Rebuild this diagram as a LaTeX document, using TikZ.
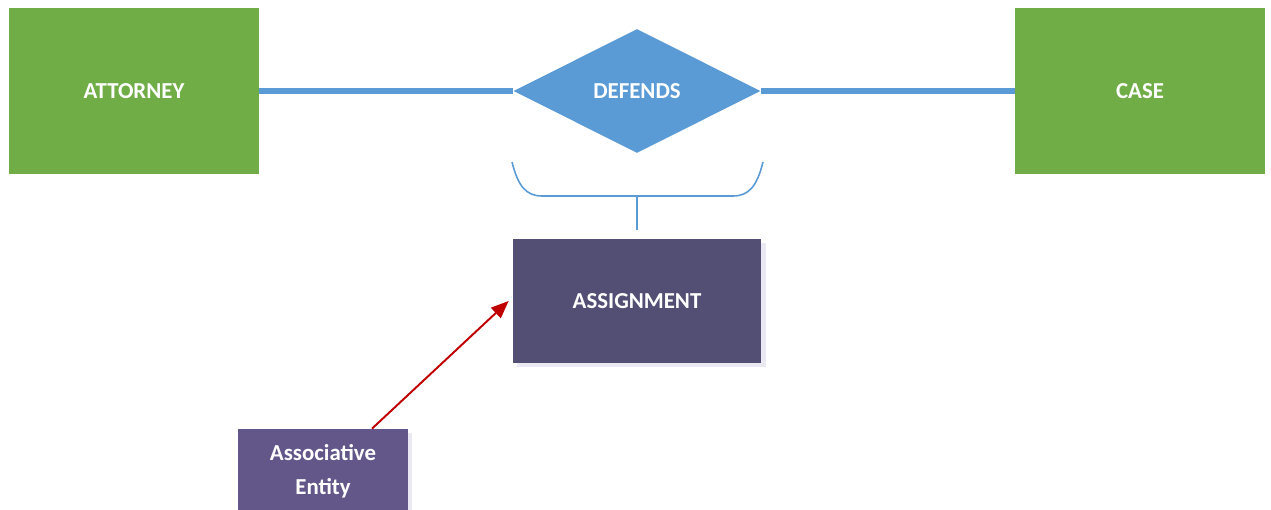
\documentclass[tikz,border=0pt]{standalone}
\usepackage{fontspec}
\setmainfont{Carlito}
\usetikzlibrary{shapes.geometric,arrows.meta,shadows}

\definecolor{entgreen}{HTML}{70AD47}
\definecolor{relblue}{HTML}{5B9BD5}
\definecolor{assocpurple}{HTML}{534E73}
\definecolor{notepurple}{HTML}{63578A}
\definecolor{shadelav}{HTML}{EAE8F2}
\definecolor{arrowred}{HTML}{C00000}

\tikzset{
  label text/.style={text=white, font=\fontsize{13}{19.5}\selectfont\bfseries, align=center},
  entity/.style={label text, fill=entgreen, minimum width=5cm, minimum height=3.32cm, inner sep=0pt},
  relation/.style={label text, diamond, fill=relblue, aspect=2, minimum width=4.94cm, minimum height=2.48cm, inner sep=0pt},
  purplebox/.style={label text, inner sep=0pt,
    drop shadow={shadow xshift=2.5pt, shadow yshift=-2.5pt, fill=shadelav, opacity=1}},
  link/.style={relblue, line width=3.2pt},
  bracket/.style={relblue, line width=0.9pt},
  pointer/.style={arrowred, line width=1.1pt, -{Triangle[length=10pt, width=8pt]}}
}

\begin{document}
\begin{tikzpicture}[x=0.02cm, y=-0.02cm]
    \clip (0,0) rectangle (1271,510);
    \fill[white] (0,0) rectangle (1271,510);

    \node[entity] (attorney) at (134,91) {ATTORNEY};
    \node[entity] (case) at (1140,91) {CASE};
    \node[relation] (defends) at (637,91) {DEFENDS};
    \node[purplebox, fill=assocpurple, minimum width=4.98cm, minimum height=2.48cm] (assignment) at (637,301) {ASSIGNMENT};
    \node[purplebox, fill=notepurple, minimum width=3.4cm, minimum height=1.68cm] (assocentity) at (323,471) {Associative\\Entity};

    \draw[link] (attorney.east) -- (defends.west);
    \draw[link] (defends.east) -- (case.west);

    % brace under the relationship
    \coordinate (braceleft) at (512,162);
    \coordinate (braceright) at (763,162);
    \coordinate (bracemid) at (637,196);
    \coordinate (stemend) at (637,230);
    \draw[bracket] (braceleft) .. controls (518,186) and (526,196) .. (542,196)
        -- (733,196) .. controls (749,196) and (757,186) .. (braceright);
    \draw[bracket] (bracemid) -- (stemend);

    \draw[pointer] ([xshift=0.98cm]assocentity.north) -- ([xshift=-2pt]assignment.west);
\end{tikzpicture}
\end{document}
